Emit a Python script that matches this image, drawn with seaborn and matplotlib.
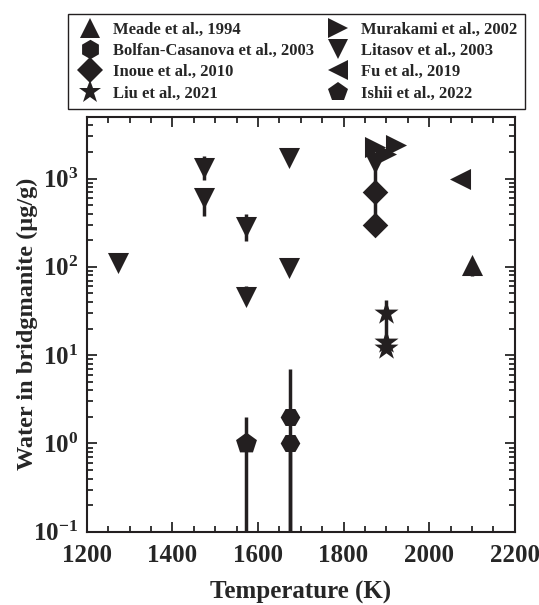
import numpy as np
import pandas as pd
import seaborn as sns
import matplotlib.pyplot as plt
from matplotlib.lines import Line2D
from matplotlib.ticker import MultipleLocator, LogLocator, NullFormatter

# studies in legend order (column-major, two columns)
studies = ["Meade et al., 1994", "Bolfan-Casanova et al., 2003", "Inoue et al., 2010",
           "Liu et al., 2021", "Murakami et al., 2002", "Litasov et al., 2003",
           "Fu et al., 2019", "Ishii et al., 2022"]
markers = ["^", "H", "D", "*", ">", "v", "<", "p"]
legend_markers = ["^", "h", "D", "*", ">", "v", "<", "p"]
marker_s = [230, 200, 170, 330, 230, 230, 230, 250]

# temperature (K), water (ug/g), error bar low / high (ug/g)
meade_T = [2100]
meade_w = [105]
meade_lo = [79]
meade_hi = [105]

bolfan_T = [1675, 1675]
bolfan_w = [2, 1]
bolfan_lo = [0.01, 0.01]
bolfan_hi = [7, 1]

inoue_T = [1873, 1873]
inoue_w = [700, 300]
inoue_lo = [300, 300]
inoue_hi = [1450, 300]

liu_T = [1900, 1900, 1900]
liu_w = [30, 14, 12]
liu_lo = [12, 14, 12]
liu_hi = [42, 14, 12]

murakami_T = [1873, 1900, 1923]
murakami_w = [2300, 1900, 2400]
murakami_lo = murakami_w
murakami_hi = murakami_w

litasov_T = [1273, 1473, 1473, 1573, 1573, 1673, 1673, 1873]
litasov_w = [110, 1330, 600, 280, 46, 1700, 98, 1480]
litasov_lo = [110, 950, 380, 195, 46, 1700, 98, 1480]
litasov_hi = [125, 1820, 790, 400, 60, 1700, 110, 1480]

fu_T = [2073]
fu_w = [1000]
fu_lo = fu_w
fu_hi = fu_w

ishii_T = [1573]
ishii_w = [1]
ishii_lo = [0.01]
ishii_hi = [2]

all_T = [meade_T, bolfan_T, inoue_T, liu_T, murakami_T, litasov_T, fu_T, ishii_T]
all_w = [meade_w, bolfan_w, inoue_w, liu_w, murakami_w, litasov_w, fu_w, ishii_w]
all_lo = [meade_lo, bolfan_lo, inoue_lo, liu_lo, murakami_lo, litasov_lo, fu_lo, ishii_lo]
all_hi = [meade_hi, bolfan_hi, inoue_hi, liu_hi, murakami_hi, litasov_hi, fu_hi, ishii_hi]

rows = []
for s, T, w, lo, hi in zip(studies, all_T, all_w, all_lo, all_hi):
    for t, v, l, h in zip(T, w, lo, hi):
        rows.append({"Study": s, "T": t, "Water": v, "lo": l, "hi": h})
df = pd.DataFrame(rows)

sns.set_style("ticks")
plt.rcParams["font.family"] = ["Liberation Serif", "DejaVu Serif"]
plt.rcParams["font.weight"] = "bold"
plt.rcParams["mathtext.fontset"] = "custom"
plt.rcParams["mathtext.rm"] = "Liberation Serif:bold"
plt.rcParams["mathtext.bf"] = "Liberation Serif:bold"
plt.rcParams["mathtext.default"] = "bf"

ink = "#231f20"

fig = plt.figure(figsize=(5.39, 6.05), dpi=100)
ax = fig.add_axes([0.161, 0.121, 0.794, 0.686])

# error bars
ax.errorbar(df["T"], df["Water"],
            yerr=[df["Water"] - df["lo"], df["hi"] - df["Water"]],
            fmt="none", ecolor=ink, elinewidth=2.5, capsize=0, zorder=1)

for s, m, sz in zip(studies, markers, marker_s):
    sub = df[df["Study"] == s]
    sns.scatterplot(data=sub, x="T", y="Water", marker=m, color=ink, s=sz,
                    edgecolor=ink, linewidth=0, ax=ax, zorder=2, legend=False)

ax.set_yscale("log")
ax.set_xlim(1200, 2200)
ax.set_ylim(0.1, 5000)
ax.xaxis.set_major_locator(MultipleLocator(200))
ax.xaxis.set_minor_locator(MultipleLocator(50))
ax.yaxis.set_major_locator(LogLocator(base=10, numticks=10))
ax.yaxis.set_minor_locator(LogLocator(base=10, subs=np.arange(2, 10), numticks=20))
ax.yaxis.set_minor_formatter(NullFormatter())
ax.tick_params(which="both", direction="in", top=True, right=True, width=1.3, labelsize=18)
ax.tick_params(axis="x", which="major", pad=9)
ax.tick_params(axis="y", which="major", pad=6)
ax.tick_params(which="major", length=7)
ax.tick_params(which="minor", length=4)
for sp in ax.spines.values():
    sp.set_linewidth(1.5)
    sp.set_color(ink)
for lab in ax.get_xticklabels() + ax.get_yticklabels():
    lab.set_fontweight("bold")

ax.set_xlabel("Temperature (K)", fontsize=18, fontweight="bold", labelpad=10)
ax.set_ylabel("Water in bridgmanite (\u00b5g/g)", fontsize=17.5, fontweight="bold", labelpad=-3)

leg_sizes = [14.5, 14, 13, 17, 14.5, 14.5, 14.5, 15]
handles = [Line2D([], [], linestyle="none", marker=m, markersize=ms, color=ink,
                  markeredgewidth=0) for m, ms in zip(legend_markers, leg_sizes)]
fig.legend(handles, studies, ncol=2, loc="upper left", bbox_to_anchor=(0.126, 0.977),
           frameon=True, fancybox=False, edgecolor=ink, framealpha=1,
           prop={"size": 12, "weight": "bold"}, handlelength=1.75, handletextpad=0.51,
           columnspacing=0.57, labelspacing=0.32, borderpad=0.45, borderaxespad=0)

fig.savefig("out.png", dpi=100)
